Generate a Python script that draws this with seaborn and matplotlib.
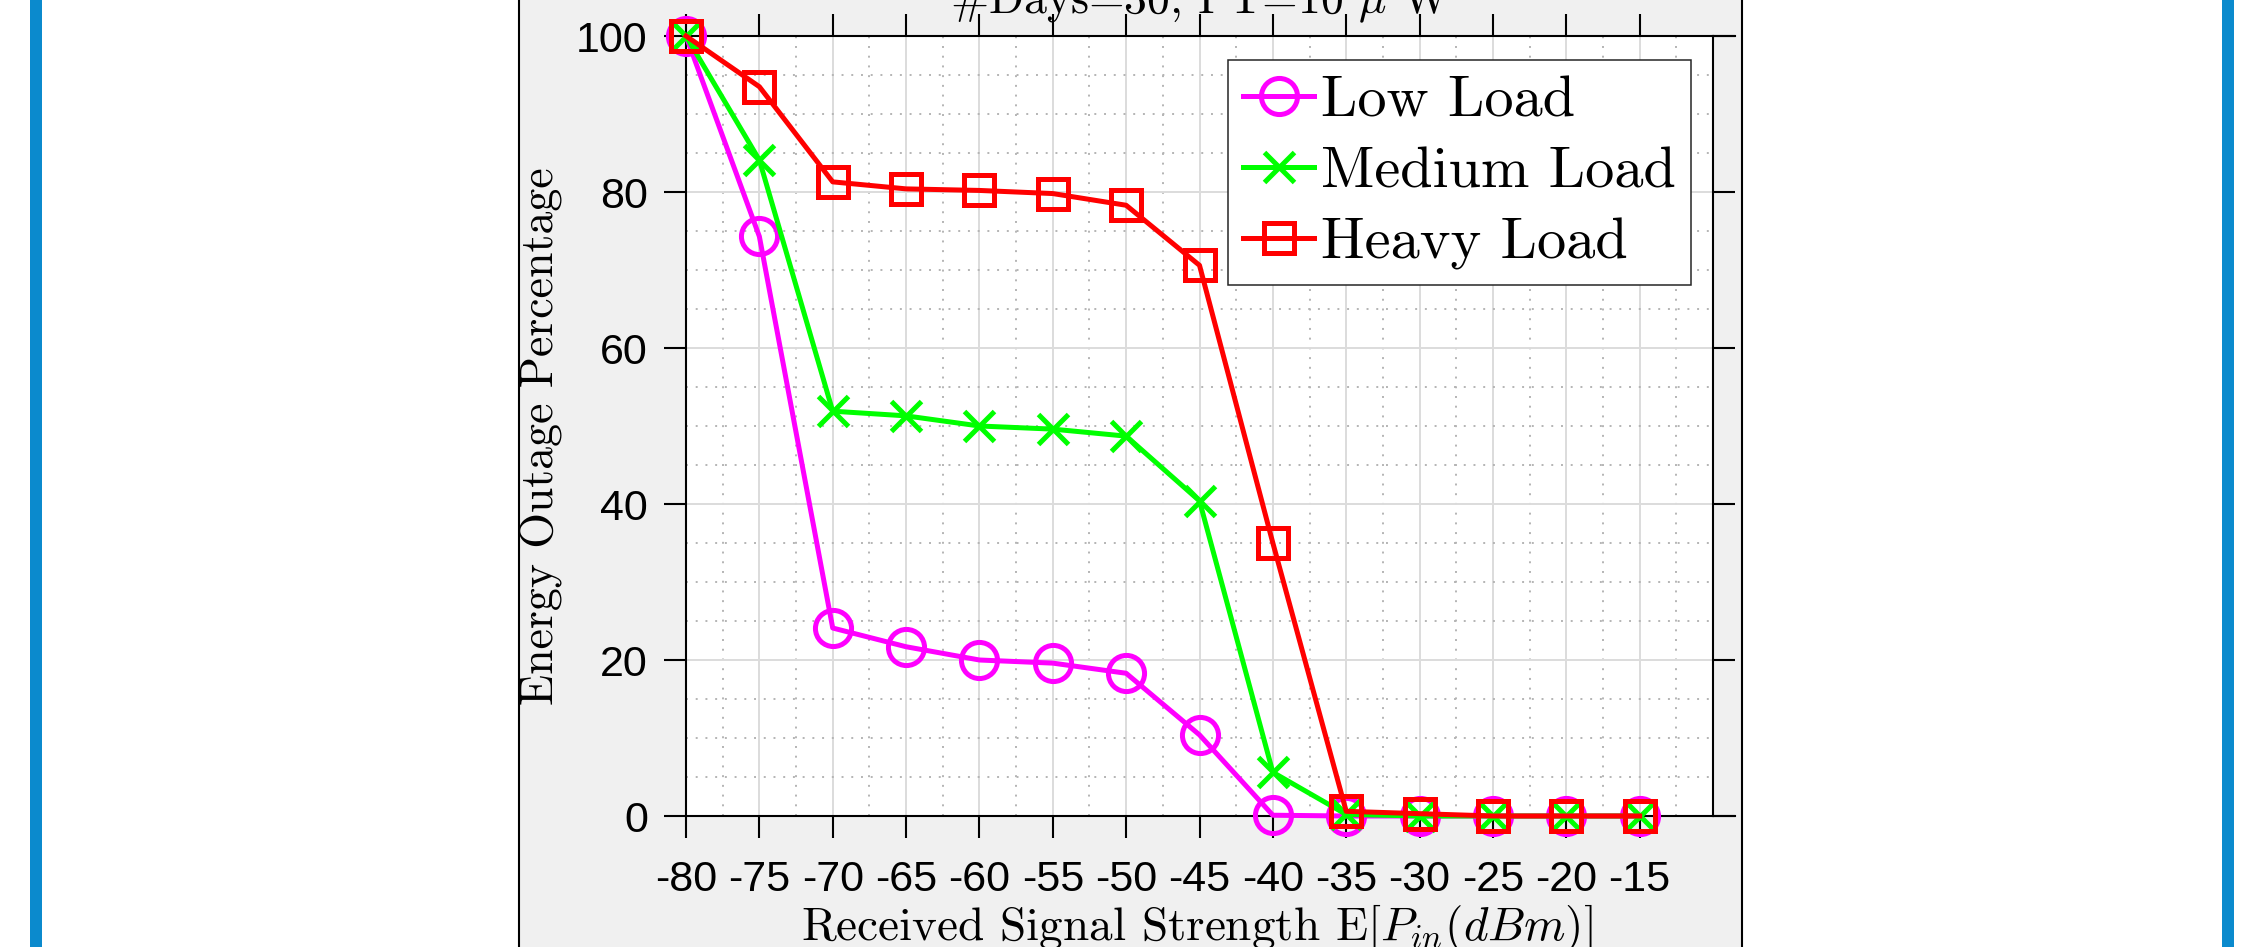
import matplotlib
matplotlib.use('Agg')
import matplotlib.pyplot as plt
from matplotlib.patches import Rectangle
from matplotlib.ticker import MultipleLocator
import seaborn as sns
import pandas as pd

# data
rss = [-80, -75, -70, -65, -60, -55, -50, -45, -40, -35, -30, -25, -20, -15]
low_load = [100, 74.3, 24.1, 21.7, 20.0, 19.6, 18.3, 10.4, 0.1, 0, 0, 0, 0, 0]
medium_load = [100, 84.1, 51.9, 51.3, 50.0, 49.6, 48.7, 40.4, 5.6, 0.2, 0, 0, 0, 0]
heavy_load = [100, 93.5, 81.3, 80.4, 80.2, 79.8, 78.3, 70.6, 35.0, 0.6, 0.3, 0, 0, 0]
series_names = ['Low Load', 'Medium Load', 'Heavy Load']
xtick_labels = ['-80', '-75', '-70', '-65', '-60', '-55', '-50', '-45', '-40', '-35', '-30', '-25', '-20', '-15']
ytick_values = [0, 20, 40, 60, 80, 100]
ytick_labels = ['0', '20', '40', '60', '80', '100']

plt.rcParams['font.family'] = ['Liberation Sans', 'DejaVu Sans']
plt.rcParams['mathtext.fontset'] = 'cm'
plt.rcParams['axes.unicode_minus'] = False
serif = ['cmr10', 'DejaVu Serif']

df = pd.DataFrame({
    'rss': rss * 3,
    'outage': low_load + medium_load + heavy_load,
    'load': [n for n in series_names for _ in rss],
})

W, H = 2260, 947
fig = plt.figure(figsize=(W / 100, H / 100), dpi=100)
fig.patch.set_facecolor('white')

# blue side bars and grey figure panel (kept behind the axes)
for x0 in (30, 2222):
    fig.patches.append(Rectangle((x0 / W, 0), 12 / W, 1, transform=fig.transFigure,
                                 facecolor='#0b8acd', edgecolor='none', zorder=-10))
fig.patches.append(Rectangle((519 / W, -0.05), (1742 - 519) / W, 1.1, transform=fig.transFigure,
                             facecolor='#f0f0f0', edgecolor='black', lw=1.5, zorder=-10))

ax = fig.add_axes([686 / W, 131 / H, 1027 / W, 780 / H])
ax.set_facecolor('white')

colors = ['#ff00ff', '#00ff00', '#ff0000']
markers = ['o', 'x', 's']
msizes = [26, 21, 21]
for name, c, m, s in zip(series_names, colors, markers, msizes):
    sns.lineplot(data=df[df['load'] == name], x='rss', y='outage', color=c, marker=m,
                 ms=s, mfc='none', mec=c, mew=3.6, lw=3.6, label=name, errorbar=None,
                 clip_on=False, zorder=3, ax=ax)

ax.set_xlim(-80, -10)
ax.set_ylim(0, 100)
ax.set_xticks(rss)
ax.set_xticklabels(xtick_labels)
ax.set_yticks(ytick_values)
ax.set_yticklabels(ytick_labels)
ax.xaxis.set_minor_locator(MultipleLocator(2.5))
ax.yaxis.set_minor_locator(MultipleLocator(5))
ax.tick_params(which='major', direction='out', length=16, width=1.5, top=True, right=True,
               labelsize=31, colors='black')
ax.tick_params(axis='x', pad=15.5)
ax.tick_params(axis='y', pad=11.5)
ax.tick_params(which='minor', length=0)
ax.grid(which='major', color='#dcdcdc', lw=1.4, ls='-')
ax.grid(which='minor', color='#b4b4b4', lw=1.4, ls=(0, (1, 4)))
ax.set_axisbelow(True)
for sp in ax.spines.values():
    sp.set_linewidth(1.5)
    sp.set_color('black')

# x axis lines run a little past the right box edge
for yv in (0, 100):
    ax.axhline(yv, xmin=1, xmax=1.0214, color='black', lw=1.5, clip_on=False)

ax.text(0.5, 1 + 23 / 780, r'#Days=30, PT=10 $\mu$ W', transform=ax.transAxes,
        ha='center', va='baseline', fontsize=33, family=serif)

ax.set_xlabel(r'Received Signal Strength E[$P_{in}(dBm)$]', fontsize=34, family=serif)
ax.xaxis.label.set_va('baseline')
ax.xaxis.set_label_coords(0.4976, -124 / 780)
ax.set_ylabel('Energy Outage Percentage', fontsize=33, family=serif)
ax.yaxis.label.set_va('baseline')
ax.yaxis.set_label_coords(-133 / 1027, 0.487)

handles, labels = ax.get_legend_handles_labels()
ax.legend(handles, labels, loc='upper right', bbox_to_anchor=(0.9786, 0.9692), borderaxespad=0,
          prop={'family': serif, 'size': 42}, frameon=True, fancybox=False, edgecolor='#262626',
          framealpha=1, handlelength=1.22, handletextpad=0.12, labelspacing=0.33, borderpad=0.26)
ax.get_legend().get_frame().set_linewidth(1.1)

fig.savefig('out.png', dpi=100)
